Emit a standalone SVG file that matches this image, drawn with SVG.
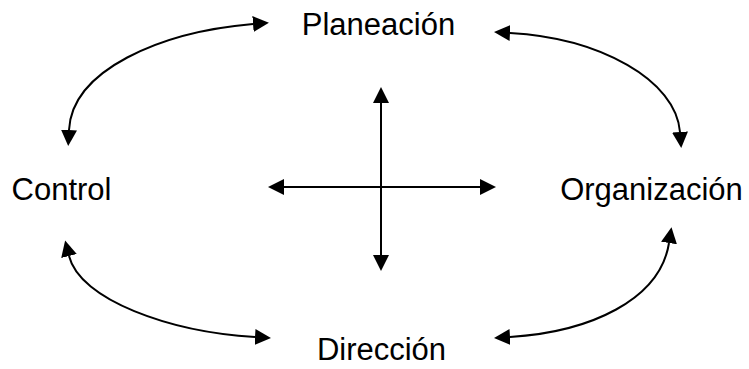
<svg xmlns="http://www.w3.org/2000/svg" width="749" height="369" viewBox="0 0 749 369">
<style>
text{font-family:"Liberation Sans",Arial,sans-serif;font-size:31px;fill:#000;text-anchor:middle}
.c{fill:none;stroke:#000;stroke-width:2}
</style>
<defs>
<marker id="ah" markerUnits="userSpaceOnUse" markerWidth="16" markerHeight="16" refX="0" refY="7.5" orient="auto-start-reverse" viewBox="0 0 15 15">
<path d="M0,0 L15,7.5 L0,15 z" fill="#000"/>
</marker>
</defs>
<rect width="749" height="369" fill="#fff"/>
<g id="connectors">
<path class="c" d="M253,24 C160,32 72,70 69,130" marker-start="url(#ah)" marker-end="url(#ah)"/>
<path class="c" d="M510,33 C600,38 676,80 680,132" marker-start="url(#ah)" marker-end="url(#ah)"/>
<path class="c" d="M69,256 C80,300 170,332 255,337" marker-start="url(#ah)" marker-end="url(#ah)"/>
<path class="c" d="M669,243 C660,300 590,332 510,337" marker-start="url(#ah)" marker-end="url(#ah)"/>
<path class="c" d="M284,187 L480,187" marker-start="url(#ah)" marker-end="url(#ah)"/>
<path class="c" d="M381,103 L381,255" marker-start="url(#ah)" marker-end="url(#ah)"/>
</g>
<g id="planeacion"><text x="378.5" y="35">Planeación</text></g>
<g id="control"><text x="61.5" y="200">Control</text></g>
<g id="organizacion"><text x="651.5" y="200">Organización</text></g>
<g id="direccion"><text x="381.5" y="360">Dirección</text></g>
</svg>
